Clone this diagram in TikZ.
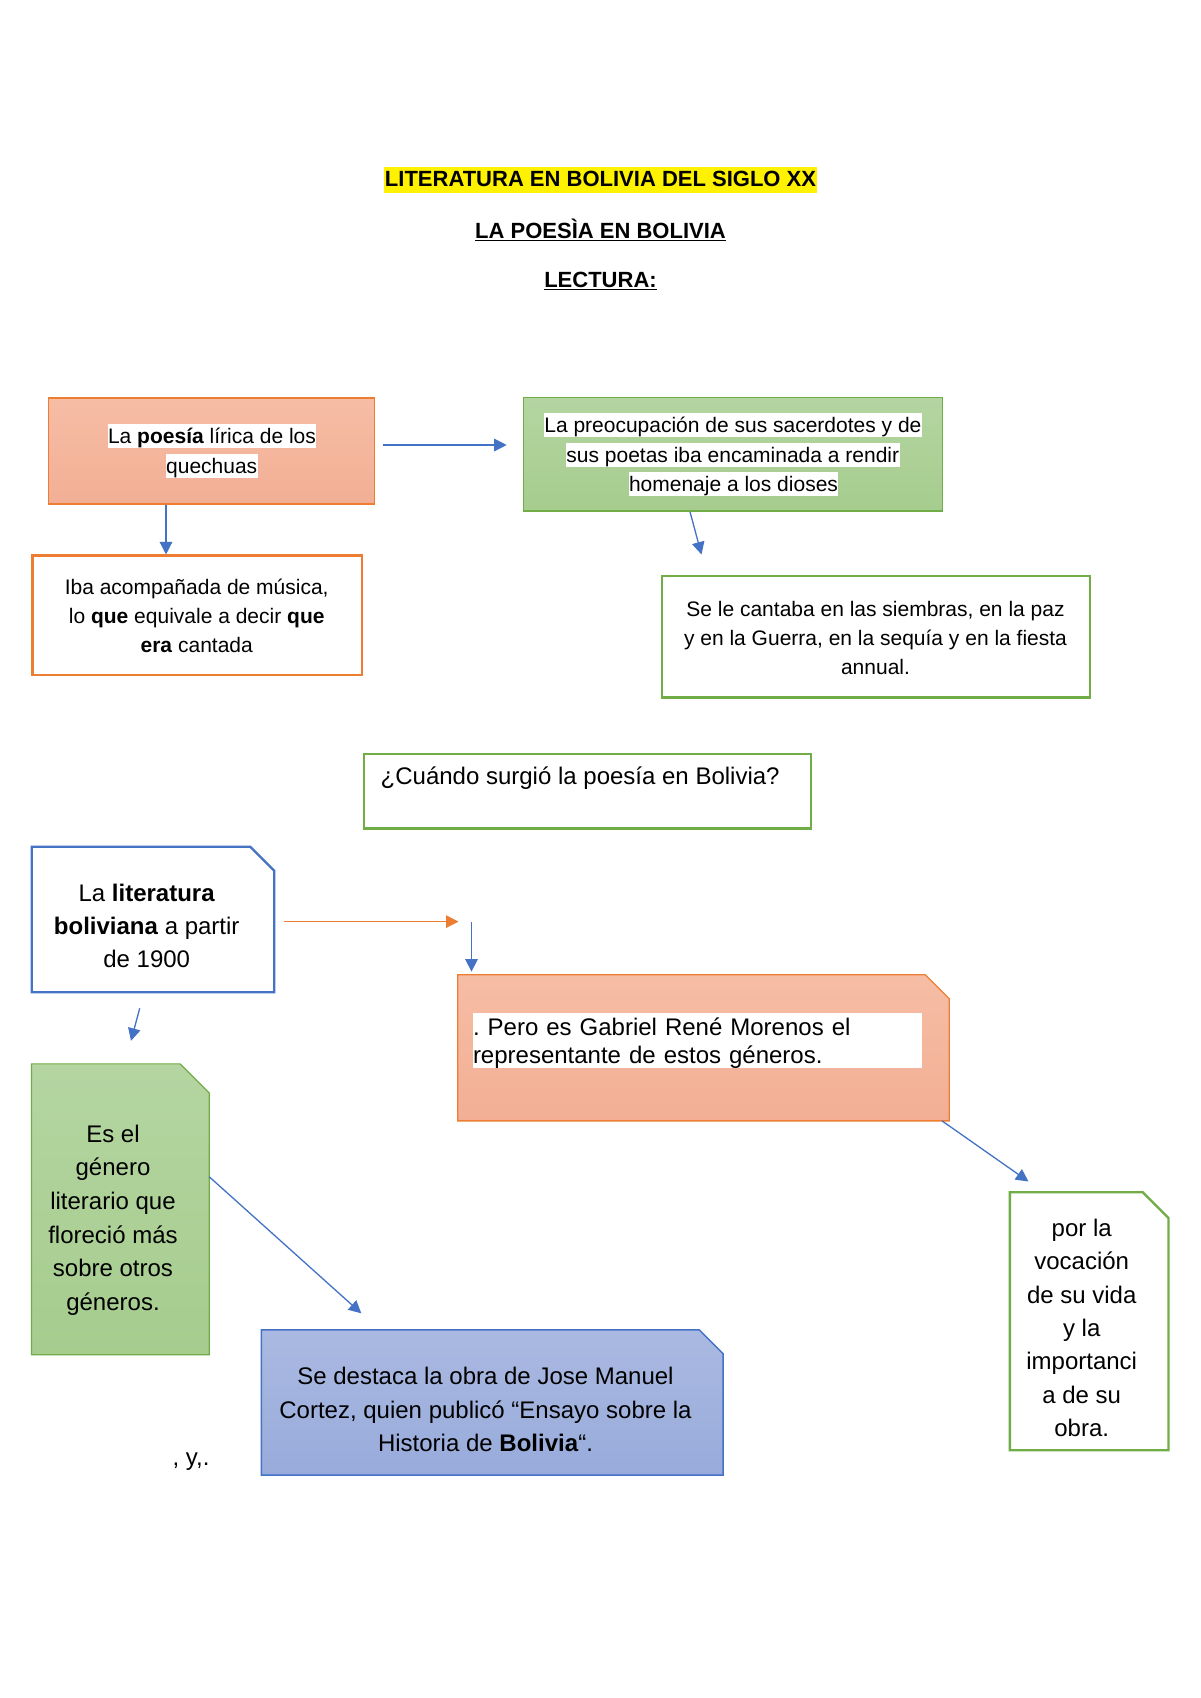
\documentclass[tikz,border=0pt]{standalone}
\usepackage{fontspec}
\setmainfont{Liberation Sans}
\usetikzlibrary{arrows.meta}
\frenchspacing
\definecolor{cOr}{HTML}{ED7D31}
\definecolor{cGr}{HTML}{70AD47}
\definecolor{cBl}{HTML}{4472C4}
\definecolor{fOrT}{HTML}{F6BDA5}
\definecolor{fOrB}{HTML}{F2AF95}
\definecolor{fGrT}{HTML}{B4D5A1}
\definecolor{fGrB}{HTML}{A6CC8E}
\definecolor{fBlT}{HTML}{AAB9E1}
\definecolor{fBlB}{HTML}{98ABDB}
\newcommand\fA{\fontsize{21}{29.1}\selectfont}
\newcommand\fB{\fontsize{24}{33.3}\selectfont}
\newcommand\fG{\fontsize{24}{33.7}\selectfont}
\newcommand\fC{\fontsize{24}{28.2}\selectfont}
\newcommand\fT{\fontsize{22}{26}\selectfont\bfseries}
\newcommand\cutshape[3]{\path[#3] (#1.south west) -- (#1.north west) -- ([xshift=-#2pt]#1.north east) -- ([yshift=-#2pt]#1.north east) -- (#1.south east) -- cycle;}
\begin{document}
\begin{tikzpicture}[x=1pt,y=-1pt,
  arr/.style={draw=cBl, line width=1.3pt, -{Triangle[length=12.5pt,width=12.5pt]}},
  oarr/.style={arr, draw=cOr},
  plain/.style={rectangle, inner sep=0pt},
  hl/.style={fill=white, inner xsep=0.5pt, inner ysep=0pt, text height=19.5pt, text depth=4.5pt, font=\fA},
  txtA/.style={align=center, inner sep=0pt, font=\fA},
  txtB/.style={align=center, inner sep=0pt, font=\fB},
  ttl/.style={inner sep=0pt, font=\fT},
 ]
\useasboundingbox (0,0) rectangle (1200,1698);
\fill[white] (0,0) rectangle (1200,1698);

% titles
\node[ttl, fill=yellow, inner xsep=1pt, text height=19pt, text depth=6.4pt] (t1) at (600.5,180) {LITERATURA EN BOLIVIA DEL SIGLO XX};
\node[ttl] (t2) at (600.5,230) {\underline{LA POESÌA EN BOLIVIA}};
\node[ttl] (t3) at (600.5,281) {\underline{LECTURA:}};

% row 1
\node[plain, minimum width=326pt, minimum height=106pt, draw=cOr, line width=1.2pt, top color=fOrT, bottom color=fOrB] (b1) at (211.7,451) {};
\node[hl] (b1l1) at (212,436.4) {La \textbf{poesía} lírica de los};
\node[hl] (b1l2) at (211.7,465.5) {quechuas};

\node[plain, minimum width=329.3pt, minimum height=119.2pt, draw=cOr, line width=2.3pt, fill=white] (b2) at (197,615.2) {};
\node[txtA] (b2t) at (196.7,615.7) {Iba acompañada de música,\\lo \textbf{que} equivale a decir \textbf{que}\\\textbf{era} cantada};

\node[plain, minimum width=419pt, minimum height=113.4pt, draw=cGr, line width=1.5pt, top color=fGrT, bottom color=fGrB] (b3) at (732.9,454.3) {};
\node[hl] (b3l1) at (732.9,425.3) {La preocupación de sus sacerdotes y de};
\node[hl] (b3l2) at (732.8,454.5) {sus poetas iba encaminada a rendir};
\node[hl] (b3l3) at (733.5,483.8) {homenaje a los dioses};

\node[plain, minimum width=427.7pt, minimum height=121.4pt, draw=cGr, line width=2.3pt, fill=white] (b4) at (875.8,636.7) {};
\node[txtA] (b4t) at (875.5,637.9) {Se le cantaba en las siembras, en la paz\\y en la Guerra, en la sequía y en la fiesta\\annual.};

% question
\node[plain, minimum width=447pt, minimum height=74.5pt, draw=cGr, line width=2.3pt, fill=white] (q) at (587.5,791.2) {};
\node[inner sep=0pt, font=\fB, anchor=west] (qt) at (380.5,778.6) {¿Cuándo surgió la poesía en Bolivia?};

% literatura box
\node[plain, minimum width=242pt, minimum height=145pt] (lit) at (153,919.5) {};
\cutshape{lit}{24}{draw=cBl, line width=2.3pt, fill=white}
\node[txtB] (litt) at (146.7,926) {La \textbf{literatura}\\\textbf{boliviana} a partir\\de 1900};

% orange cut box
\node[plain, minimum width=491pt, minimum height=145.7pt] (or) at (703.5,1047.8) {};
\cutshape{or}{24}{draw=cOr, line width=1.3pt, top color=fOrT, bottom color=fOrB}
\node[plain, fill=white, minimum width=449pt, minimum height=55pt] (ortbg) at (697.5,1040.8) {};
\node[text width=449pt, inner sep=0pt, align=left, font=\fC] (ort) at (697.5,1043.3) {. Pero es Gabriel René Morenos el\\representante de estos géneros.};

% green cut box
\node[plain, minimum width=177.4pt, minimum height=290.5pt] (gr) at (120.3,1209.3) {};
\cutshape{gr}{29}{draw=cGr, line width=1.2pt, top color=fGrT, bottom color=fGrB}
\node[align=center, inner sep=0pt, font=\fG] (grt) at (113,1220.2) {Es el\\género\\literario que\\floreció más\\sobre otros\\géneros.};

% blue cut box
\node[plain, minimum width=461.4pt, minimum height=145pt] (bl) at (492.3,1402.5) {};
\cutshape{bl}{24}{draw=cBl, line width=1.5pt, top color=fBlT, bottom color=fBlB}
\node[txtB] (blt) at (485.5,1409.5) {Se destaca la obra de Jose Manuel\\Cortez, quien publicó “Ensayo sobre la\\Historia de \textbf{Bolivia}“.};

% por la box
\node[plain, minimum width=158.3pt, minimum height=257.7pt] (pl) at (1089.2,1321.2) {};
\cutshape{pl}{26}{draw=cGr, line width=2.3pt, fill=white}
\node[txtB] (plt) at (1081.7,1328) {por la\\vocación\\de su vida\\y la\\importanci\\a de su\\obra.};

% stray text
\node[inner sep=0pt, font=\fB] (yy) at (191,1461.7) {, y,.};

% connectors
\coordinate (a1s) at (382.7,445);
\coordinate (a1e) at (506.7,445);
\draw[arr] (a1s) -- (a1e);
\draw[arr] (166,0 |- b1.south) -- (166,0 |- b2.north);
\coordinate (a3e) at (701.5,554.5);
\draw[arr] (690,0 |- b3.south) -- (a3e);
\coordinate (a4s) at (283.7,921.6);
\coordinate (a4e) at (458.5,921.6);
\draw[oarr] (a4s) -- (a4e);
\coordinate (a5s) at (471.5,921.6);
\coordinate (a5e) at (471.5,971.6);
\draw[arr] (a5s) -- (a5e);
\coordinate (a6s) at (139.7,1008.3);
\coordinate (a6e) at (131,1040.8);
\draw[arr] (a6s) -- (a6e);
\coordinate (a7e) at (1028.5,1181.5);
\draw[arr] (942,0 |- or.south) -- (a7e);
\coordinate (a8e) at (361.3,1313.3);
\draw[arr] (gr.east |- 0,1176.7) -- (a8e);
\end{tikzpicture}
\end{document}
